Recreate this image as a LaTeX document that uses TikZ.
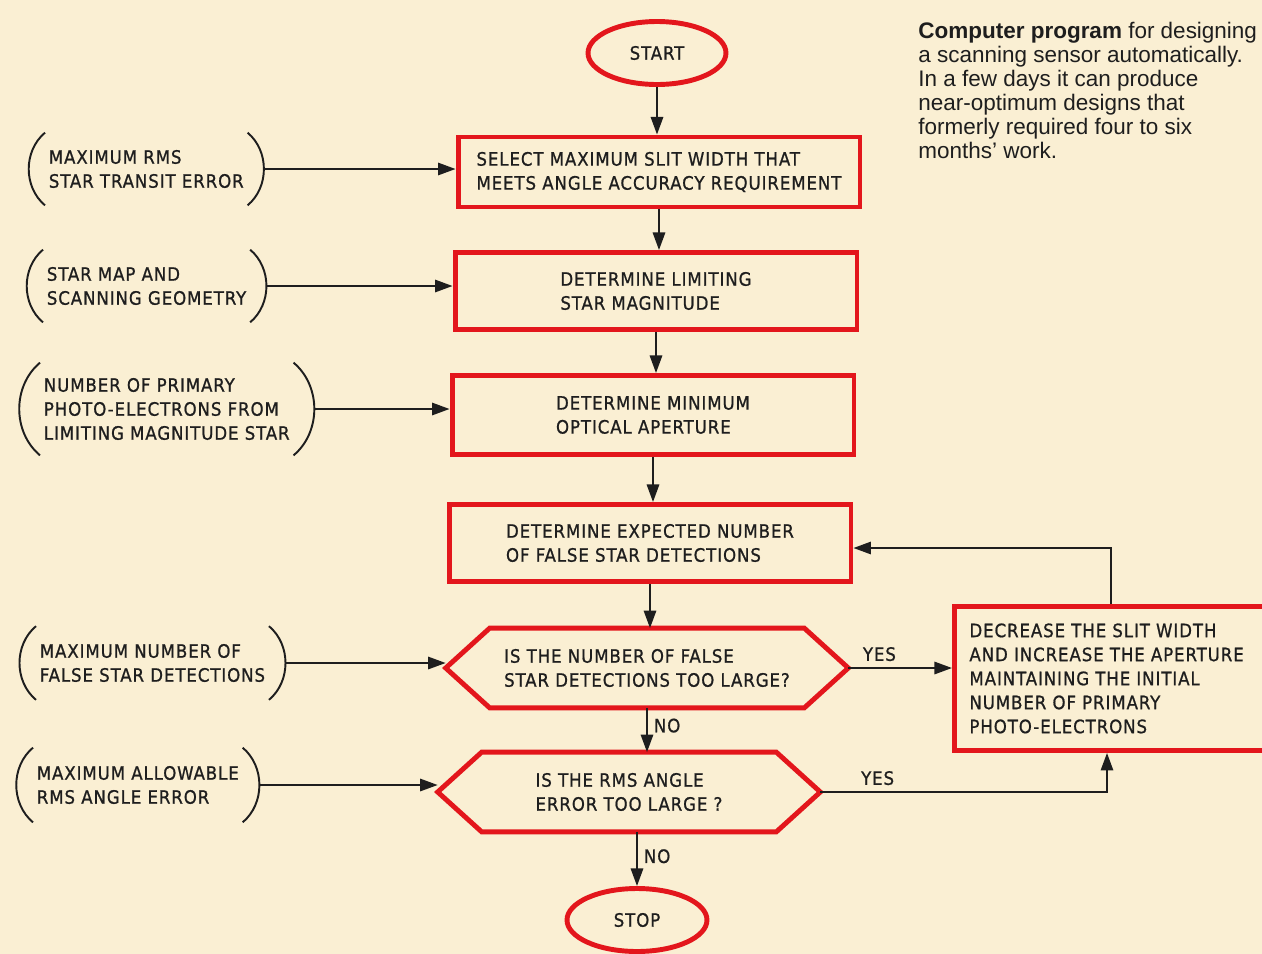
\documentclass[tikz,border=0pt]{standalone}
\usepackage{fontspec}
\setmainfont{Liberation Sans}
\newfontfamily\lettering[LetterSpace=5,FakeBold=0.9]{DejaVu Sans Condensed}
\usetikzlibrary{shapes.geometric,arrows.meta}
\definecolor{paper}{HTML}{FAEFD3}
\definecolor{chartred}{HTML}{E3161C}
\definecolor{ink}{HTML}{1E1E1E}
\begin{document}
\begin{tikzpicture}[
  x=0.02cm, y=-0.02cm,
  every node/.style={font=\lettering\fontsize{10.5}{13.66}\selectfont, text=ink},
  flow/.style={draw=chartred, line width=2.8pt, rectangle, align=left, minimum width=8.04cm, minimum height=1.54cm},
  term/.style={draw=chartred, line width=2.8pt, ellipse, minimum width=2.76cm, minimum height=1.26cm},
  test/.style={align=left, minimum width=8.04cm, minimum height=1.58cm},
  given/.style={align=left, anchor=west, inner xsep=2pt},
  paren/.style={draw=ink, line width=1.1pt},
  arrow/.style={draw=ink, line width=1.2pt, -{Triangle[length=10pt,width=7pt]}},
  answer/.style={font=\lettering\fontsize{10.5}{12}\selectfont}
]
\clip (0,0) rectangle (1262,954);
\fill[paper] (0,0) rectangle (1262,954);

\node[term] (start) at (657,53) {START};
\node[flow, minimum height=1.4cm] (sel) at (659,172) {SELECT MAXIMUM SLIT WIDTH THAT\\MEETS ANGLE ACCURACY REQUIREMENT};
\node[flow] (limit) at (656,291) {DETERMINE LIMITING\\STAR MAGNITUDE};
\node[flow, minimum height=1.58cm] (aper) at (653,415) {DETERMINE MINIMUM\\OPTICAL APERTURE};
\node[flow] (expect) at (650,543) {DETERMINE EXPECTED NUMBER\\OF FALSE STAR DETECTIONS};
\node[test] (test1) at (647,668) {IS THE NUMBER OF FALSE\\STAR DETECTIONS TOO LARGE?};
\node[test, minimum width=7.64cm] (test2) at (629,792) {IS THE RMS ANGLE\\ERROR TOO LARGE ?};
\node[term, minimum width=2.8cm] (stop) at (637,920) {STOP};
\node[flow, anchor=north west, text width=6.0cm, inner xsep=0.26cm, minimum width=6.6cm, minimum height=2.88cm]
  (fix) at (952,604) {DECREASE THE SLIT WIDTH\\AND INCREASE THE APERTURE\\MAINTAINING THE INITIAL\\NUMBER OF PRIMARY\\PHOTO-ELECTRONS};

\foreach \d in {test1,test2}
  \draw[chartred, line width=2.8pt, line join=miter] (\d.west) -- ([xshift=0.88cm]\d.north west)
    -- ([xshift=-0.88cm]\d.north east) -- (\d.east) -- ([xshift=-0.88cm]\d.south east)
    -- ([xshift=0.88cm]\d.south west) -- cycle;

\node[given, minimum height=1.44cm] (rms) at (45,169) {MAXIMUM RMS\\STAR TRANSIT ERROR};
\node[given, minimum height=1.44cm] (map) at (43,286) {STAR MAP AND\\SCANNING GEOMETRY};
\node[given, minimum height=1.84cm] (photo) at (40,409) {NUMBER OF PRIMARY\\PHOTO-ELECTRONS FROM\\LIMITING MAGNITUDE STAR};
\node[given, minimum height=1.46cm] (false) at (36,663) {MAXIMUM NUMBER OF\\FALSE STAR DETECTIONS};
\node[given, minimum height=1.48cm] (angle) at (33,785) {MAXIMUM ALLOWABLE\\RMS ANGLE ERROR};

\foreach \n in {rms,map,photo,false,angle} {
  \draw[paren] (\n.north west) to[bend right=50] (\n.south west);
  \draw[paren] (\n.north east) to[bend left=50] (\n.south east);
}

\draw[arrow] (start) -- (start |- sel.north);
\draw[arrow] (sel.south) -- (sel.south |- limit.north);
\draw[arrow] (limit.south) -- (limit.south |- aper.north);
\draw[arrow] (aper.south) -- (aper.south |- expect.north);
\draw[arrow] (expect.south) -- (expect.south |- test1.north);
\draw[arrow] (test1.south) -- node[answer, right, pos=0.4] {NO} (test1.south |- test2.north);
\draw[arrow] (stop.north |- test2.south) -- node[answer, right, pos=0.45] {NO} (stop.north);

\draw[arrow] ([xshift=0.33cm]rms.east) -- (rms.east -| sel.west);
\draw[arrow] ([xshift=0.33cm]map.east) -- (map.east -| limit.west);
\draw[arrow] ([xshift=0.42cm]photo.east) -- (photo.east -| aper.west);
\draw[arrow] ([xshift=0.33cm]false.east) -- (false.east -| test1.west);
\draw[arrow] ([xshift=0.34cm]angle.east) -- (angle.east -| test2.west);

\draw[arrow] (test1.east) -- node[answer, above, pos=0.3] {YES} (test1.east -| fix.west);
\coordinate (up) at (1107,800);
\draw[arrow] (test2.east) -- node[answer, above, pos=0.2] {YES} (test2.east -| up) -- (fix.south -| up);
\coordinate (fb) at (1111,548);
\draw[arrow] (fix.north -| fb) -- (fb) -- (fb -| expect.east);

\node[anchor=north west, align=left, inner sep=0pt, font=\fontsize{12.8}{13.66}\selectfont] (caption) at (918,22)
  {\textbf{Computer program} for designing\\a scanning sensor automatically.\\In a few days it can produce\\near-optimum designs that\\formerly required four to six\\months' work.};
\end{tikzpicture}
\end{document}
